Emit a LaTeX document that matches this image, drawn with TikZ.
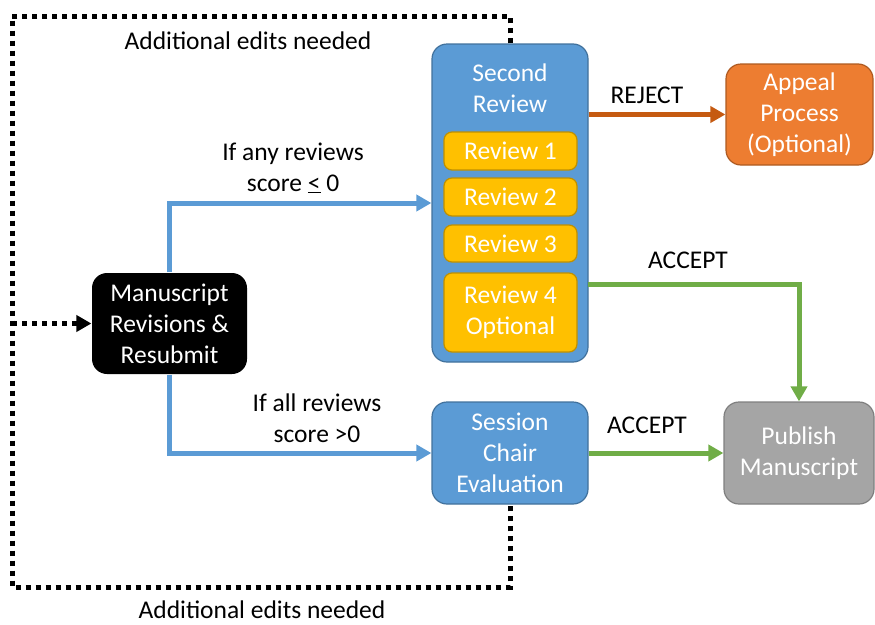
\documentclass[tikz,border=0pt]{standalone}
\usepackage{fontspec}
\setmainfont{Carlito}
\usetikzlibrary{arrows.meta}
\definecolor{bblue}{HTML}{5B9BD5}
\definecolor{bblueline}{HTML}{41719C}
\definecolor{yel}{HTML}{FFC000}
\definecolor{yelline}{HTML}{BF9000}
\definecolor{org}{HTML}{ED7D31}
\definecolor{orgline}{HTML}{AE5A21}
\definecolor{orgarr}{HTML}{C55A11}
\definecolor{grn}{HTML}{70AD47}
\definecolor{gry}{HTML}{A5A5A5}
\definecolor{gryline}{HTML}{7F7F7F}
\begin{document}
\begin{tikzpicture}[x=1pt,y=-1pt,line width=1.2pt,>={Triangle[length=15pt,width=16pt]},
  box/.style={rectangle,rounded corners=15pt,align=center,text=white,font=\fontsize{25.5}{31}\selectfont},
  rev/.style={box,rounded corners=8pt,fill=yel,draw=yelline,minimum width=133pt},
  lab/.style={align=center,font=\fontsize{25.5}{31}\selectfont},
  arr/.style={line width=5pt,->},
  dots/.style={line width=5pt,dash pattern=on 5pt off 5pt}]
\useasboundingbox (0,0) rectangle (875,624);
\node[box,fill=black,minimum width=155pt,minimum height=101pt] (ms) at (169.5,323.5) {Manuscript\\Revisions \&\\Resubmit};
\node[box,fill=bblue,draw=bblueline,minimum width=156pt,minimum height=318pt] (sr) at (510,203) {};
\node[box] (srt) at (510,88) {Second\\Review};
\foreach \n/\y/\h in {1/151/38,2/197/38,3/243.5/37}{\node[rev,minimum height=\h pt] (r\n) at (510.5,\y) {Review \n};};
\node[rev,minimum height=79pt] (r4) at (510.5,312.5) {Review 4\\Optional};
\node[box,fill=org,draw=orgline,minimum width=147pt,minimum height=101pt] (ap) at (799.5,114.5) {Appeal\\Process\\(Optional)};
\node[box,fill=bblue,draw=bblueline,minimum width=156pt,minimum height=102pt] (sc) at (510,453) {Session\\Chair\\Evaluation};
\node[box,fill=gry,draw=gryline,minimum width=150pt,minimum height=102pt] (pb) at (799,453) {Publish\\Manuscript};
\coordinate (acc) at (588,284);
\coordinate (tl) at (12,16);
\coordinate (bl) at (12,587);
% review paths
\draw[arr,bblue] (ms.north) |- (sr.west);
\draw[arr,bblue] (ms.south) |- (sc.west);
\draw[arr,orgarr] (sr.east |- ap.west) -- (ap.west);
\draw[arr,grn] (acc) -| (pb.north);
\draw[arr,grn] (sc.east) -- (pb.west);
% resubmission loop
\draw[dots] (sr.north) |- (tl) -- (bl) -| (sc.south);
\draw[dots,->] (tl |- ms.west) -- (ms.west);
\node[lab] (l1) at (293,168) {If any reviews\\score \underline{<} 0};
\node[lab] (l2) at (317,418) {If all reviews\\score >0};
\node[lab] (l3) at (647,95) {REJECT};
\node[lab] (l4) at (688,260) {ACCEPT};
\node[lab] (l5) at (647,425) {ACCEPT};
\node[lab] (l6) at (248,41) {Additional edits needed};
\node[lab] (l7) at (262,610) {Additional edits needed};
\end{tikzpicture}
\end{document}
